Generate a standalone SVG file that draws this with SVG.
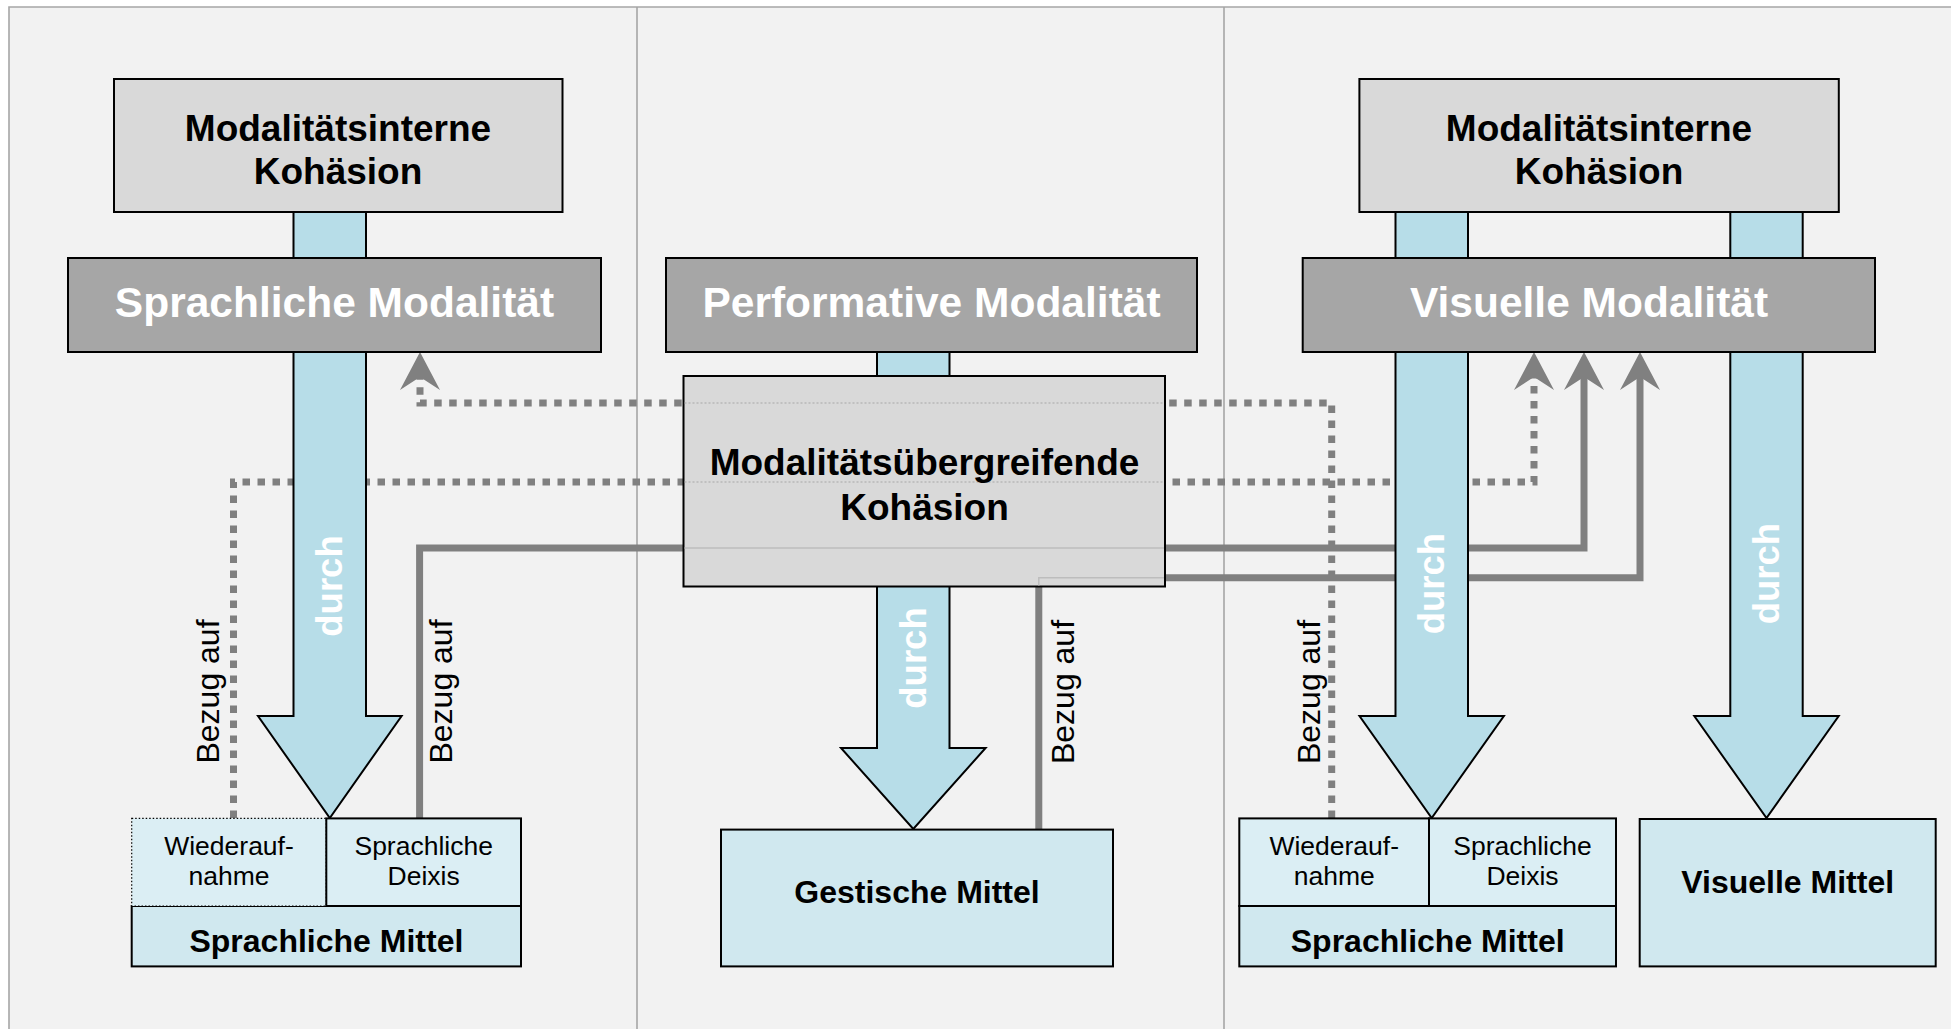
<svg xmlns="http://www.w3.org/2000/svg" width="1951" height="1029" viewBox="0 0 1951 1029">
<style>
.bg{fill:#f2f2f2}
.frame{stroke:#a6a6a6;stroke-width:1.6;fill:none}
.koh{fill:#d9d9d9;stroke:#000;stroke-width:2}
.mod{fill:#a6a6a6;stroke:#000;stroke-width:2}
.mit{fill:#d0e8ef;stroke:#000;stroke-width:2}
.cell{fill:#dbeef4;stroke:#000;stroke-width:2}
.blue{fill:#b7dde8;stroke:#000;stroke-width:2;stroke-linejoin:miter}
.solid{fill:none;stroke:#808080;stroke-width:7}
.dot{fill:none;stroke:#808080;stroke-width:7;stroke-dasharray:7.5 7.5}
.thin{fill:none;stroke:#bdbdbd;stroke-width:1.5}
.thindot{fill:none;stroke:#a8a8a8;stroke-width:1.2;stroke-dasharray:2 2}
text{font-family:"Liberation Sans",Arial,sans-serif}
.t37{font-size:37px;font-weight:bold;fill:#000;text-anchor:middle}
.tmod{font-size:42.5px;font-weight:bold;fill:#fff;text-anchor:middle}
.t32{font-size:32px;font-weight:bold;fill:#000;text-anchor:middle}
.t26{font-size:26.5px;fill:#000;text-anchor:middle}
.bez{font-size:32px;fill:#000;text-anchor:middle}
.durch{font-size:36.5px;font-weight:bold;fill:#fff;text-anchor:middle}
</style>
<defs>
<marker id="ah" viewBox="-40 -22 42 44" refX="-25" refY="0" markerWidth="42" markerHeight="44" markerUnits="userSpaceOnUse" orient="auto" overflow="visible">
<path d="M0,0 L-38,-20 L-25,0 L-38,20 Z" fill="#808080"/>
</marker>
</defs>
<rect x="0" y="0" width="1951" height="1029" fill="#ffffff"/>
<rect class="bg" x="9" y="7" width="1942" height="1022"/>
<g id="frame">
<path class="frame" d="M9,1029 V7 H1951"/>
<path class="frame" d="M637,7 V1029 M1224,7 V1029"/>
</g>
<g id="connectors">
<path class="dot" d="M1331.7,818 V403 H420 V377" marker-end="url(#ah)"/>
<path class="dot" d="M233.5,818 V482 H1534 V377" marker-end="url(#ah)"/>
<path class="solid" d="M419.6,818 V548 H1584 V377" marker-end="url(#ah)"/>
<path class="solid" d="M1038.8,829.6 V577.7 H1640 V377" marker-end="url(#ah)"/>
</g>
<g id="arrows">
<polygon id="arrow-left" class="blue" points="293.5,212 366,212 366,716 401.6,716 329.8,818 258,716 293.5,716"/>
<polygon id="arrow-mid" class="blue" points="877,352 949.5,352 949.5,748 985.6,748 913.3,829 841,748 877,748"/>
<polygon id="arrow-right1" class="blue" points="1395.5,212 1468,212 1468,716 1503.9,716 1431.7,818 1359.5,716 1395.5,716"/>
<polygon id="arrow-right2" class="blue" points="1730.3,212 1802.7,212 1802.7,716 1838.7,716 1766.5,818 1694.3,716 1730.3,716"/>
<text class="durch" transform="translate(342.3,586) rotate(-90)">durch</text>
<text class="durch" transform="translate(925.8,658) rotate(-90)">durch</text>
<text class="durch" transform="translate(1444.2,583.6) rotate(-90)">durch</text>
<text class="durch" transform="translate(1779,573.6) rotate(-90)">durch</text>
</g>
<g id="koh-left">
<rect class="koh" x="114" y="79" width="448.5" height="133"/>
<text class="t37" x="338" y="141">Modalitätsinterne</text>
<text class="t37" x="338" y="184">Kohäsion</text>
</g>
<g id="mod-left">
<rect class="mod" x="68" y="258" width="533" height="94"/>
<text class="tmod" x="334.5" y="317">Sprachliche Modalität</text>
</g>
<g id="mod-mid">
<rect class="mod" x="666" y="258" width="531" height="94"/>
<text class="tmod" x="931.5" y="317">Performative Modalität</text>
</g>
<g id="koh-right">
<rect class="koh" x="1359.4" y="79" width="479.4" height="133"/>
<text class="t37" x="1599" y="141">Modalitätsinterne</text>
<text class="t37" x="1599" y="184">Kohäsion</text>
</g>
<g id="mod-right">
<rect class="mod" x="1302.7" y="258" width="572.3" height="94"/>
<text class="tmod" x="1589" y="317">Visuelle Modalität</text>
</g>
<g id="koh-mid">
<rect class="koh" x="683.5" y="376" width="481.5" height="210.5"/>
<path class="thindot" d="M684.5,403 H1164 M684.5,482 H1164"/>
<path class="thin" d="M684.5,548 H1164 M1038.8,585.5 V577.7 H1164"/>
<text class="t37" x="924.5" y="475.4">Modalitätsübergreifende</text>
<text class="t37" x="924.5" y="520">Kohäsion</text>
</g>
<g id="mittel-left">
<rect class="mit" x="131.7" y="906" width="389.3" height="60.4"/>
<rect x="131.7" y="818.4" width="194.6" height="87.6" fill="#dbeef4" stroke="#000" stroke-width="1.2" stroke-dasharray="1.5 2"/>
<rect class="cell" x="326.3" y="818.4" width="194.7" height="87.6"/>
<text class="t26" x="229" y="854.5">Wiederauf-</text>
<text class="t26" x="229" y="884.5">nahme</text>
<text class="t26" x="423.7" y="854.5">Sprachliche</text>
<text class="t26" x="423.7" y="884.5">Deixis</text>
<text class="t32" x="326.4" y="951.5">Sprachliche Mittel</text>
</g>
<g id="mittel-mid">
<rect class="mit" x="721" y="829.6" width="392" height="136.8"/>
<text class="t32" x="917" y="902.6">Gestische Mittel</text>
</g>
<g id="mittel-right">
<rect class="mit" x="1239.3" y="906" width="376.7" height="60.4"/>
<rect class="cell" x="1239.3" y="818.4" width="189.7" height="87.6"/>
<rect class="cell" x="1429" y="818.4" width="187" height="87.6"/>
<text class="t26" x="1334.2" y="854.5">Wiederauf-</text>
<text class="t26" x="1334.2" y="884.5">nahme</text>
<text class="t26" x="1522.5" y="854.5">Sprachliche</text>
<text class="t26" x="1522.5" y="884.5">Deixis</text>
<text class="t32" x="1427.7" y="951.5">Sprachliche Mittel</text>
</g>
<g id="mittel-visuell">
<rect class="mit" x="1639.7" y="819" width="296" height="147.4"/>
<text class="t32" x="1787.7" y="892.6">Visuelle Mittel</text>
</g>
<g id="labels">
<text class="bez" transform="translate(219,691.5) rotate(-90)">Bezug auf</text>
<text class="bez" transform="translate(451.6,691.5) rotate(-90)">Bezug auf</text>
<text class="bez" transform="translate(1074,692) rotate(-90)">Bezug auf</text>
<text class="bez" transform="translate(1320,692) rotate(-90)">Bezug auf</text>
</g>
</svg>
